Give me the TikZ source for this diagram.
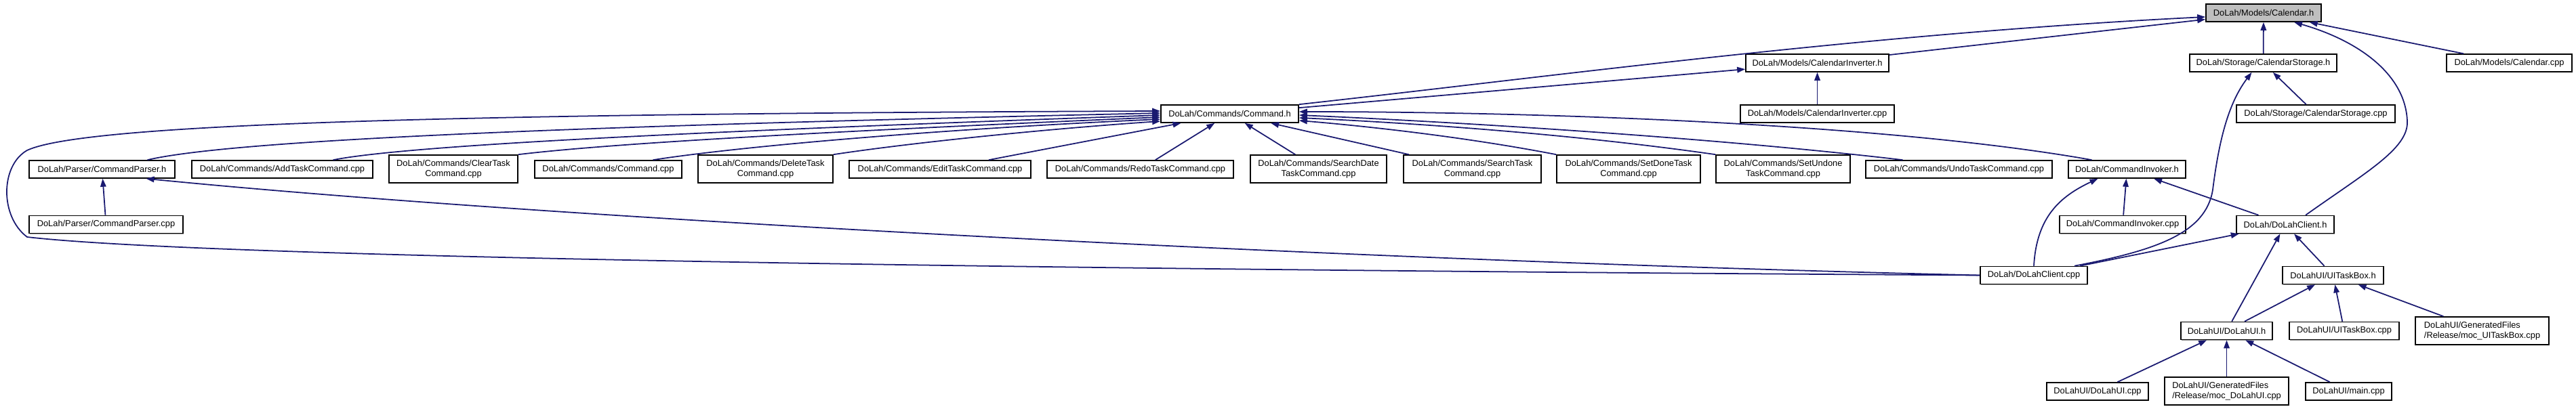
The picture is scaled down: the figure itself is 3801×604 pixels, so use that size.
\documentclass[tikz,border=0pt]{standalone}
\usepackage{fontspec}
\setmainfont{Liberation Sans}
\usetikzlibrary{arrows.meta,calc,shadows}
\definecolor{edgeblue}{RGB}{25,25,112}
\definecolor{rootgray}{RGB}{191,191,191}
\tikzset{
  file/.style={draw=black, fill=white, line width=0.45pt, minimum height=0.26cm,
    inner xsep=0pt, inner ysep=0pt, align=center,
    font=\fontsize{3.65pt}{4.27pt}\selectfont,
    drop shadow={shadow xshift=0.35pt, shadow yshift=-0.35pt, opacity=0.55, fill=black!70}},
  twoline/.style={file, minimum height=0.41cm},
  inc/.style={draw=edgeblue, line width=0.5pt, -{Triangle[length=0.12cm,width=0.085cm]}},
}
\begin{document}
\begin{tikzpicture}[x=0.01cm, y=-0.01cm]
            \useasboundingbox (0,0) rectangle (3801,604);
            % Models and storage
            \node[file, fill=rootgray, minimum width=1.70cm] (cal_h) at (3340,19) {DoLah/Models/Calendar.h};
            \node[file, minimum width=2.11cm] (calinv_h) at (2681.5,93) {DoLah/Models/CalendarInverter.h};
            \node[file, minimum width=2.17cm] (calstor_h) at (3339.5,93) {DoLah/Storage/CalendarStorage.h};
            \node[file, minimum width=1.85cm] (cal_cpp) at (3702.5,93) {DoLah/Models/Calendar.cpp};
            \node[file, minimum width=2.27cm] (calinv_cpp) at (2681.5,168) {DoLah/Models/CalendarInverter.cpp};
            \node[file, minimum width=2.34cm] (calstor_cpp) at (3417,168) {DoLah/Storage/CalendarStorage.cpp};
            \node[file, minimum width=2.03cm] (cmd_h) at (1814.5,168) {DoLah/Commands/Command.h};
            % Commands
            \node[file, minimum width=2.15cm] (parser_h) at (150.5,250) {DoLah/Parser/CommandParser.h};
            \node[file, minimum width=2.67cm] (addtask) at (416.5,250) {DoLah/Commands/AddTaskCommand.cpp};
            \node[twoline, minimum width=1.90cm] (cleartask) at (669,249.5) {DoLah/Commands/ClearTask\\Command.cpp};
            \node[file, minimum width=2.17cm] (cmd_cpp) at (897.5,250) {DoLah/Commands/Command.cpp};
            \node[twoline, minimum width=1.99cm] (deletetask) at (1129.5,249.5) {DoLah/Commands/DeleteTask\\Command.cpp};
            \node[file, minimum width=2.68cm] (edittask) at (1387,250) {DoLah/Commands/EditTaskCommand.cpp};
            \node[file, minimum width=2.75cm] (redotask) at (1682.5,250) {DoLah/Commands/RedoTaskCommand.cpp};
            \node[twoline, minimum width=2.01cm] (searchdate) at (1945.5,249.5) {DoLah/Commands/SearchDate\\TaskCommand.cpp};
            \node[twoline, minimum width=2.03cm] (searchtask) at (2172.5,249.5) {DoLah/Commands/SearchTask\\Command.cpp};
            \node[twoline, minimum width=2.12cm] (setdone) at (2403,249.5) {DoLah/Commands/SetDoneTask\\Command.cpp};
            \node[twoline, minimum width=1.98cm] (setundone) at (2631,249.5) {DoLah/Commands/SetUndone\\TaskCommand.cpp};
            \node[file, minimum width=2.75cm] (undotask) at (2890.5,250) {DoLah/Commands/UndoTaskCommand.cpp};
            \node[file, minimum width=1.73cm] (invoker_h) at (3138.5,250) {DoLah/CommandInvoker.h};
            \node[file, minimum width=2.27cm] (parser_cpp) at (156.5,331.5) {DoLah/Parser/CommandParser.cpp};
            \node[file, minimum width=1.86cm] (invoker_cpp) at (3132,331.5) {DoLah/CommandInvoker.cpp};
            % Client and UI
            \node[file, minimum width=1.44cm] (client_h) at (3372,331.5) {DoLah/DoLahClient.h};
            \node[file, minimum width=1.58cm] (client_cpp) at (3001,406.5) {DoLah/DoLahClient.cpp};
            \node[file, minimum width=1.49cm] (taskbox_h) at (3442.5,406.5) {DoLahUI/UITaskBox.h};
            \node[file, minimum width=1.35cm] (ui_h) at (3285.5,488.5) {DoLahUI/DoLahUI.h};
            \node[file, minimum width=1.62cm] (taskbox_cpp) at (3459,488.5) {DoLahUI/UITaskBox.cpp};
            \node[twoline, align=left, minimum width=1.97cm] (moc_taskbox) at (3662.5,488.5) {DoLahUI/GeneratedFiles\\/Release/moc\_UITaskBox.cpp};
            \node[file, minimum width=1.50cm] (ui_cpp) at (3095,578) {DoLahUI/DoLahUI.cpp};
            \node[twoline, align=left, minimum width=1.83cm] (moc_ui) at (3285.5,577.5) {DoLahUI/GeneratedFiles\\/Release/moc\_DoLahUI.cpp};
            \node[file, minimum width=1.27cm] (main_cpp) at (3465.5,578) {DoLahUI/main.cpp};
            % Includes of Calendar.h
            \draw[inc] (cmd_h.north east) .. controls (2300,112) and (2750,50) .. ($(cal_h.west)+(0,6)$);
            \draw[inc] (calinv_h) -- (cal_h);
            \draw[inc] (calstor_h) -- (cal_h);
            \draw[inc] ($(client_h.north)+(30,0)$) .. controls (3490,255) and (3553,220) .. (3552,180)
              .. controls (3550,110) and (3480,60) .. ($(cal_h.south)+(45,0)$);
            \draw[inc] (cal_cpp) -- (cal_h);
            \draw[inc] (cmd_h) -- (calinv_h);
            \draw[inc] (calinv_cpp) -- (calinv_h);
            \draw[inc] (calstor_cpp) -- (calstor_h);
            \draw[inc] ($(client_cpp.north)+(60,0)$) .. controls (3180,370) and (3255,345) .. (3265,280)
              .. controls (3275,200) and (3290,150) .. ($(calstor_h.south)+(-17,0)$);
            % Includes of Command.h
            \draw[inc] ($(parser_h.north)+(67,0)$) .. controls (350,205) and (900,185) .. ($(cmd_h.west)+(0,-1)$);
            \draw[inc] ($(addtask.north)+(75,0)$) .. controls (600,215) and (1000,195) .. ($(cmd_h.west)+(0,2)$);
            \draw[inc] (cleartask.north east) .. controls (900,212) and (1200,195) .. ($(cmd_h.west)+(0,5)$);
            \draw[inc] ($(cmd_cpp.north)+(66,0)$) .. controls (1100,215) and (1400,190) .. ($(cmd_h.west)+(0,8)$);
            \draw[inc] (deletetask.north east) .. controls (1350,210) and (1550,190) .. ($(cmd_h.west)+(0,11)$);
            \draw[inc] (edittask) -- (cmd_h);
            \draw[inc] (redotask) -- (cmd_h);
            \draw[inc] (searchdate) -- (cmd_h);
            \draw[inc] (searchtask) -- (cmd_h);
            \draw[inc] (setdone.north west) .. controls (2150,200) and (2000,185) .. ($(cmd_h.east)+(0,10)$);
            \draw[inc] (setundone.north west) .. controls (2300,195) and (2050,180) .. ($(cmd_h.east)+(0,6)$);
            \draw[inc] ($(undotask.north)+(-83,0)$) .. controls (2500,200) and (2100,178) .. ($(cmd_h.east)+(0,2)$);
            \draw[inc] ($(invoker_h.north)+(-52,0)$) .. controls (2800,185) and (2300,165) .. ($(cmd_h.east)+(0,-3)$);
            \draw[inc] (client_cpp.west) .. controls (1500,398) and (300,380) .. (40,350)
              .. controls (0,320) and (0,245) .. (40,222)
              .. controls (120,185) and (600,168) .. ($(cmd_h.west)+(0,-4)$);
            % Includes of CommandParser.h and CommandInvoker.h
            \draw[inc] (parser_cpp) -- (parser_h);
            \draw[inc] (client_cpp.west) .. controls (2000,385) and (800,322) .. ($(parser_h.south)+(65,0)$);
            \draw[inc] (invoker_cpp) -- (invoker_h);
            \draw[inc] (client_cpp.north) .. controls (3005,320) and (3040,290) .. ($(invoker_h.south)+(-43,0)$);
            \draw[inc] (client_h) -- (invoker_h);
            % Includes of the client and UI headers
            \draw[inc] (client_cpp) -- (client_h);
            \draw[inc] (ui_h) -- (client_h);
            \draw[inc] (taskbox_h) -- (client_h);
            \draw[inc] (ui_h) -- (taskbox_h);
            \draw[inc] (taskbox_cpp) -- (taskbox_h);
            \draw[inc] (moc_taskbox) -- (taskbox_h);
            \draw[inc] (ui_cpp) -- (ui_h);
            \draw[inc] (moc_ui) -- (ui_h);
            \draw[inc] (main_cpp) -- (ui_h);
\end{tikzpicture}
\end{document}
